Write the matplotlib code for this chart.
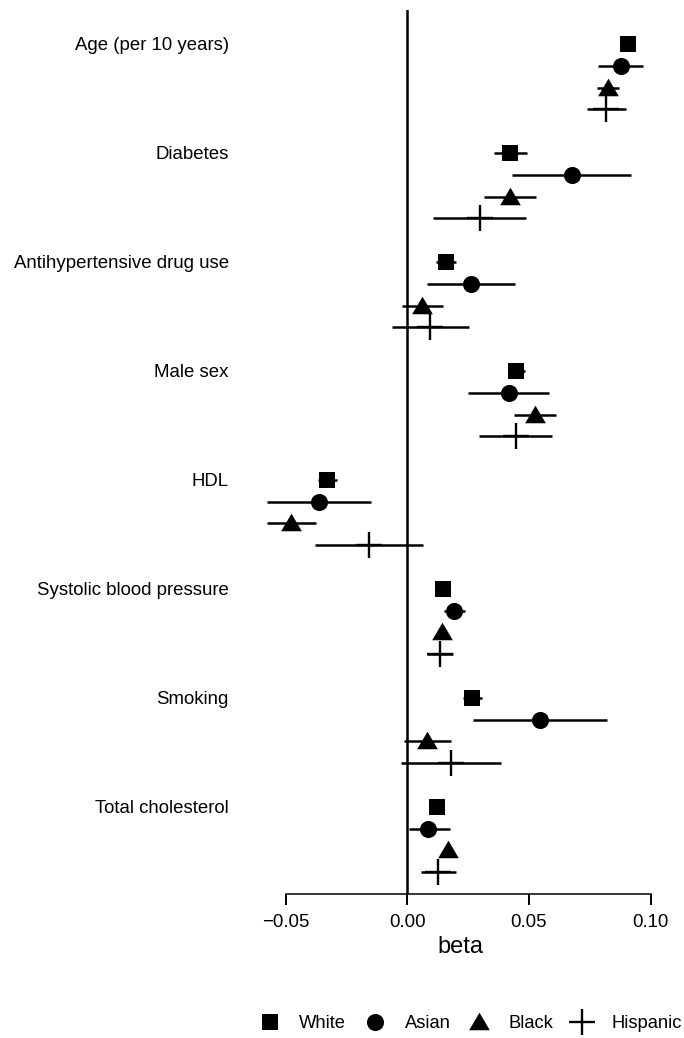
import matplotlib
matplotlib.use("Agg")
import matplotlib.pyplot as plt
import numpy as np

plt.rcParams['font.family'] = ['Liberation Sans', 'DejaVu Sans']

categories = ["Age (per 10 years)", "Diabetes", "Antihypertensive drug use",
              "Male sex", "HDL", "Systolic blood pressure", "Smoking",
              "Total cholesterol"]
series = ["White", "Asian", "Black", "Hispanic"]

white_beta = [0.0908, 0.0423, 0.0159, 0.0447, -0.0329, 0.0148, 0.0267, 0.0122]
white_lo   = [0.0895, 0.0355, 0.0118, 0.0413, -0.0368, 0.0138, 0.0228, 0.0112]
white_hi   = [0.0921, 0.0492, 0.0200, 0.0483, -0.0288, 0.0158, 0.0307, 0.0132]

asian_beta = [0.0878, 0.0676, 0.0262, 0.0418, -0.0363, 0.0193, 0.0545, 0.0086]
asian_lo   = [0.0783, 0.0432, 0.0082, 0.0251, -0.0575, 0.0151, 0.0269, 0.0008]
asian_hi   = [0.0970, 0.0918, 0.0441, 0.0582, -0.0149, 0.0237, 0.0822, 0.0176]

black_beta = [0.0826, 0.0421, 0.0062, 0.0525, -0.0477, 0.0144, 0.0082, 0.0169]
black_lo   = [0.0781, 0.0314, -0.0023, 0.0439, -0.0575, 0.0134, -0.0014, 0.0159]
black_hi   = [0.0871, 0.0530, 0.0148, 0.0611, -0.0376, 0.0154, 0.0180, 0.0179]

hisp_beta = [0.0818, 0.0297, 0.0093, 0.0446, -0.0156, 0.0134, 0.0178, 0.0127]
hisp_lo   = [0.0737, 0.0107, -0.0064, 0.0295, -0.0378, 0.0081, -0.0027, 0.0055]
hisp_hi   = [0.0898, 0.0488, 0.0254, 0.0596, 0.0065, 0.0188, 0.0384, 0.0200]

xticks = [-0.05, 0.00, 0.05, 0.10]
xticklabels = ["\u22120.05", "0.00", "0.05", "0.10"]

tri = [(0, 0.95), (-1, -0.75), (1, -0.75)]
styles = [
    dict(marker='s', ms=12.0, mew=0),
    dict(marker='o', ms=12.3, mew=0),
    dict(marker=tri, ms=14.9, mew=0),
    dict(marker='+', ms=18.7, mew=1.7),
]
data = [(white_beta, white_lo, white_hi), (asian_beta, asian_lo, asian_hi),
        (black_beta, black_lo, black_hi), (hisp_beta, hisp_lo, hisp_hi)]

fig = plt.figure(figsize=(6.84, 10.38), dpi=100)
ax = fig.add_axes([249.1 / 684, 1 - 894 / 1038, (672.5 - 249.1) / 684, 884 / 1038])

ax.axvline(0, color='black', lw=1.8, zorder=1)

handles = []
ng = len(categories)
for si, (name, (b, lo, hi), st) in enumerate(zip(series, data, styles)):
    b = np.array(b); lo = np.array(lo); hi = np.array(hi)
    y = np.arange(ng) * 5 + si
    ax.hlines(y, lo, hi, color='black', lw=1.8, zorder=2)
    h, = ax.plot(b, y, linestyle='none', color='black', marker=st['marker'],
                 markersize=st['ms'], markeredgewidth=st['mew'],
                 markeredgecolor='black', markerfacecolor='black', zorder=3,
                 label=name)
    handles.append(h)

ax.set_xlim(-0.065, 0.109)
ax.set_ylim(39, -1.56)
ax.set_xticks(xticks)
ax.set_xticklabels(xticklabels, fontsize=13.4)
ax.set_yticks(np.arange(ng) * 5)
ax.set_yticklabels(categories, fontsize=13.4)
ax.tick_params(axis='y', length=0, pad=14.5)
ax.tick_params(axis='x', length=8, width=1.4, pad=6.5)
for s in ['left', 'right', 'top']:
    ax.spines[s].set_visible(False)
ax.spines['bottom'].set_bounds(-0.05, 0.10)
ax.spines['bottom'].set_linewidth(1.1)
ax.set_xlabel("beta", fontsize=17, labelpad=3.5)

fig.legend(handles=handles, labels=series, loc='center',
           bbox_to_anchor=(469.5 / 684, 1 - 1023.5 / 1038), ncol=4, frameon=False,
           fontsize=13.2, handlelength=1.4, handletextpad=0.92,
           columnspacing=0.86, borderpad=0.2)

fig.savefig("out.png", dpi=100)
